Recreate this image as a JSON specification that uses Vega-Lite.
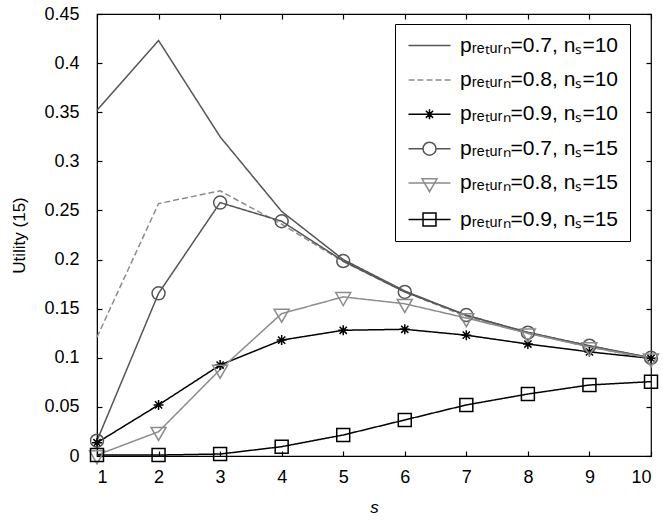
{
  "$schema": "https://vega.github.io/schema/vega-lite/v6.json",
  "width": 554,
  "height": 442,
  "autosize": {"type": "none"},
  "padding": {"left": 97, "top": 14, "right": 12, "bottom": 65},
  "config": {
    "font": "Liberation Sans",
    "view": {"stroke": "#000000", "strokeWidth": 1.2},
    "axis": {"grid": false, "domainColor": "#000000", "tickColor": "#000000", "labelColor": "#000000", "titleColor": "#000000", "labelFontSize": 18, "titleFontSize": 17, "titleFontWeight": "normal", "tickSize": -5, "tickWidth": 1.2, "labelFont": "Liberation Sans", "titleFont": "Liberation Sans"},
    "legend": {"labelFont": "Liberation Sans"}
  },
  "data": {"values": [
    {"s":1,"u":0.352,"series":"pᵣₑₜᵤᵣₙ=0.7, nₛ=10"},{"s":2,"u":0.423,"series":"pᵣₑₜᵤᵣₙ=0.7, nₛ=10"},{"s":3,"u":0.325,"series":"pᵣₑₜᵤᵣₙ=0.7, nₛ=10"},{"s":4,"u":0.249,"series":"pᵣₑₜᵤᵣₙ=0.7, nₛ=10"},{"s":5,"u":0.200,"series":"pᵣₑₜᵤᵣₙ=0.7, nₛ=10"},{"s":6,"u":0.168,"series":"pᵣₑₜᵤᵣₙ=0.7, nₛ=10"},{"s":7,"u":0.143,"series":"pᵣₑₜᵤᵣₙ=0.7, nₛ=10"},{"s":8,"u":0.126,"series":"pᵣₑₜᵤᵣₙ=0.7, nₛ=10"},{"s":9,"u":0.112,"series":"pᵣₑₜᵤᵣₙ=0.7, nₛ=10"},{"s":10,"u":0.100,"series":"pᵣₑₜᵤᵣₙ=0.7, nₛ=10"},
    {"s":1,"u":0.121,"series":"pᵣₑₜᵤᵣₙ=0.8, nₛ=10"},{"s":2,"u":0.257,"series":"pᵣₑₜᵤᵣₙ=0.8, nₛ=10"},{"s":3,"u":0.270,"series":"pᵣₑₜᵤᵣₙ=0.8, nₛ=10"},{"s":4,"u":0.236,"series":"pᵣₑₜᵤᵣₙ=0.8, nₛ=10"},{"s":5,"u":0.198,"series":"pᵣₑₜᵤᵣₙ=0.8, nₛ=10"},{"s":6,"u":0.167,"series":"pᵣₑₜᵤᵣₙ=0.8, nₛ=10"},{"s":7,"u":0.142,"series":"pᵣₑₜᵤᵣₙ=0.8, nₛ=10"},{"s":8,"u":0.125,"series":"pᵣₑₜᵤᵣₙ=0.8, nₛ=10"},{"s":9,"u":0.111,"series":"pᵣₑₜᵤᵣₙ=0.8, nₛ=10"},{"s":10,"u":0.099,"series":"pᵣₑₜᵤᵣₙ=0.8, nₛ=10"},
    {"s":1,"u":0.0135,"series":"pᵣₑₜᵤᵣₙ=0.9, nₛ=10"},{"s":2,"u":0.052,"series":"pᵣₑₜᵤᵣₙ=0.9, nₛ=10"},{"s":3,"u":0.0926,"series":"pᵣₑₜᵤᵣₙ=0.9, nₛ=10"},{"s":4,"u":0.118,"series":"pᵣₑₜᵤᵣₙ=0.9, nₛ=10"},{"s":5,"u":0.128,"series":"pᵣₑₜᵤᵣₙ=0.9, nₛ=10"},{"s":6,"u":0.129,"series":"pᵣₑₜᵤᵣₙ=0.9, nₛ=10"},{"s":7,"u":0.123,"series":"pᵣₑₜᵤᵣₙ=0.9, nₛ=10"},{"s":8,"u":0.114,"series":"pᵣₑₜᵤᵣₙ=0.9, nₛ=10"},{"s":9,"u":0.106,"series":"pᵣₑₜᵤᵣₙ=0.9, nₛ=10"},{"s":10,"u":0.0994,"series":"pᵣₑₜᵤᵣₙ=0.9, nₛ=10"},
    {"s":1,"u":0.0156,"series":"pᵣₑₜᵤᵣₙ=0.7, nₛ=15"},{"s":2,"u":0.1656,"series":"pᵣₑₜᵤᵣₙ=0.7, nₛ=15"},{"s":3,"u":0.258,"series":"pᵣₑₜᵤᵣₙ=0.7, nₛ=15"},{"s":4,"u":0.239,"series":"pᵣₑₜᵤᵣₙ=0.7, nₛ=15"},{"s":5,"u":0.1985,"series":"pᵣₑₜᵤᵣₙ=0.7, nₛ=15"},{"s":6,"u":0.167,"series":"pᵣₑₜᵤᵣₙ=0.7, nₛ=15"},{"s":7,"u":0.1435,"series":"pᵣₑₜᵤᵣₙ=0.7, nₛ=15"},{"s":8,"u":0.1255,"series":"pᵣₑₜᵤᵣₙ=0.7, nₛ=15"},{"s":9,"u":0.1123,"series":"pᵣₑₜᵤᵣₙ=0.7, nₛ=15"},{"s":10,"u":0.100,"series":"pᵣₑₜᵤᵣₙ=0.7, nₛ=15"},
    {"s":1,"u":0.001,"series":"pᵣₑₜᵤᵣₙ=0.8, nₛ=15"},{"s":2,"u":0.0247,"series":"pᵣₑₜᵤᵣₙ=0.8, nₛ=15"},{"s":3,"u":0.088,"series":"pᵣₑₜᵤᵣₙ=0.8, nₛ=15"},{"s":4,"u":0.145,"series":"pᵣₑₜᵤᵣₙ=0.8, nₛ=15"},{"s":5,"u":0.162,"series":"pᵣₑₜᵤᵣₙ=0.8, nₛ=15"},{"s":6,"u":0.155,"series":"pᵣₑₜᵤᵣₙ=0.8, nₛ=15"},{"s":7,"u":0.1405,"series":"pᵣₑₜᵤᵣₙ=0.8, nₛ=15"},{"s":8,"u":0.125,"series":"pᵣₑₜᵤᵣₙ=0.8, nₛ=15"},{"s":9,"u":0.111,"series":"pᵣₑₜᵤᵣₙ=0.8, nₛ=15"},{"s":10,"u":0.0995,"series":"pᵣₑₜᵤᵣₙ=0.8, nₛ=15"},
    {"s":1,"u":0.001,"series":"pᵣₑₜᵤᵣₙ=0.9, nₛ=15"},{"s":2,"u":0.001,"series":"pᵣₑₜᵤᵣₙ=0.9, nₛ=15"},{"s":3,"u":0.002,"series":"pᵣₑₜᵤᵣₙ=0.9, nₛ=15"},{"s":4,"u":0.0095,"series":"pᵣₑₜᵤᵣₙ=0.9, nₛ=15"},{"s":5,"u":0.0214,"series":"pᵣₑₜᵤᵣₙ=0.9, nₛ=15"},{"s":6,"u":0.0367,"series":"pᵣₑₜᵤᵣₙ=0.9, nₛ=15"},{"s":7,"u":0.052,"series":"pᵣₑₜᵤᵣₙ=0.9, nₛ=15"},{"s":8,"u":0.0631,"series":"pᵣₑₜᵤᵣₙ=0.9, nₛ=15"},{"s":9,"u":0.0723,"series":"pᵣₑₜᵤᵣₙ=0.9, nₛ=15"},{"s":10,"u":0.0757,"series":"pᵣₑₜᵤᵣₙ=0.9, nₛ=15"}
  ]},
  "resolve": {
    "scale": {"shape": "independent"},
    "axis": {"x": "independent", "y": "independent"},
    "legend": {"color": "independent", "shape": "independent", "strokeDash": "independent"}
  },
  "layer": [
    {
      "mark": {"type": "line", "strokeWidth": 1.5, "clip": false},
      "encoding": {
        "x": {"field": "s", "type": "quantitative", "scale": {"domain": [1, 10], "nice": false},
              "axis": {"orient": "bottom", "values": [1,2,3,4,5,6,7,8,9,10], "labelPadding": 17, "title": "s", "titleFontStyle": "italic", "titleY": 51, "titleBaseline": "middle"}},
        "y": {"field": "u", "type": "quantitative", "scale": {"domain": [0, 0.45], "nice": false},
              "axis": {"orient": "left", "values": [0,0.05,0.1,0.15,0.2,0.25,0.3,0.35,0.4,0.45], "format": "~g", "labelPadding": 23, "title": "Utility (15)", "titleX": -78, "titleY": 221, "titleBaseline": "middle"}},
        "color": {"field": "series", "type": "nominal", "legend": null,
                  "scale": {"domain": ["pᵣₑₜᵤᵣₙ=0.7, nₛ=10","pᵣₑₜᵤᵣₙ=0.8, nₛ=10","pᵣₑₜᵤᵣₙ=0.9, nₛ=10","pᵣₑₜᵤᵣₙ=0.7, nₛ=15","pᵣₑₜᵤᵣₙ=0.8, nₛ=15","pᵣₑₜᵤᵣₙ=0.9, nₛ=15"],
                            "range": ["#555555","#8c8c8c","#000000","#555555","#8c8c8c","#000000"]}},
        "strokeDash": {"field": "series", "type": "nominal", "legend": null,
                  "scale": {"domain": ["pᵣₑₜᵤᵣₙ=0.7, nₛ=10","pᵣₑₜᵤᵣₙ=0.8, nₛ=10","pᵣₑₜᵤᵣₙ=0.9, nₛ=10","pᵣₑₜᵤᵣₙ=0.7, nₛ=15","pᵣₑₜᵤᵣₙ=0.8, nₛ=15","pᵣₑₜᵤᵣₙ=0.9, nₛ=15"],
                            "range": [[1,0],[6,3],[1,0],[1,0],[1,0],[1,0]]}}
      }
    },
    {
      "transform": [{"filter": {"field": "series", "oneOf": ["pᵣₑₜᵤᵣₙ=0.9, nₛ=10","pᵣₑₜᵤᵣₙ=0.7, nₛ=15","pᵣₑₜᵤᵣₙ=0.8, nₛ=15","pᵣₑₜᵤᵣₙ=0.9, nₛ=15"]}}],
      "mark": {"type": "point", "filled": false, "size": 144, "strokeWidth": 1.5, "opacity": 1, "clip": false},
      "encoding": {
        "x": {"field": "s", "type": "quantitative", "axis": null},
        "y": {"field": "u", "type": "quantitative", "axis": null},
        "color": {"field": "series", "type": "nominal", "legend": null},
        "shape": {"field": "series", "type": "nominal", "legend": null,
                  "scale": {"domain": ["pᵣₑₜᵤᵣₙ=0.9, nₛ=10","pᵣₑₜᵤᵣₙ=0.7, nₛ=15","pᵣₑₜᵤᵣₙ=0.8, nₛ=15","pᵣₑₜᵤᵣₙ=0.9, nₛ=15"],
                            "range": ["M0,-0.83V0.83M-0.83,0H0.83M-0.6,-0.6L0.6,0.6M-0.6,0.6L0.6,-0.6",
                                      "M-1.08,0A1.08,1.08 0 1,0 1.08,0A1.08,1.08 0 1,0 -1.08,0Z",
                                      "M-1.25,-0.72L1.25,-0.72L0,1.44Z",
                                      "M-1.08,-1.08H1.08V1.08H-1.08Z"]}}
      }
    },
    {
      "mark": {"type": "point", "filled": false, "size": 144, "strokeWidth": 1.5, "opacity": 0},
      "encoding": {
        "x": {"field": "s", "type": "quantitative", "axis": {"orient": "top", "labels": false, "title": null, "values": [1,2,3,4,5,6,7,8,9,10], "domain": false}},
        "y": {"field": "u", "type": "quantitative", "axis": {"orient": "right", "labels": false, "title": null, "values": [0,0.05,0.1,0.15,0.2,0.25,0.3,0.35,0.4,0.45], "domain": false}},
        "color": {"field": "series", "type": "nominal",
                  "legend": {"orient": "none", "legendX": 298, "legendY": 10, "title": null, "strokeColor": "#000000", "padding": 11, "symbolSize": 144, "symbolStrokeWidth": 1.5, "symbolOpacity": 1, "symbolOffset": 13, "labelOffset": 20, "labelFontSize": 21, "labelLimit": 400, "rowPadding": 12.4, "labelColor": "#000000", "cornerRadius": 0, "fillColor": "#ffffff"}},
        "shape": {"field": "series", "type": "nominal",
                  "scale": {"domain": ["pᵣₑₜᵤᵣₙ=0.7, nₛ=10","pᵣₑₜᵤᵣₙ=0.8, nₛ=10","pᵣₑₜᵤᵣₙ=0.9, nₛ=10","pᵣₑₜᵤᵣₙ=0.7, nₛ=15","pᵣₑₜᵤᵣₙ=0.8, nₛ=15","pᵣₑₜᵤᵣₙ=0.9, nₛ=15"],
                            "range": ["M-3.5,0H3.5",
                                      "M-3.5,0H-2.5M-2,0H-1M-0.5,0H0.5M1,0H2M2.5,0H3.5",
                                      "M-3.5,0H3.5M0,-0.83V0.83M-0.83,0H0.83M-0.6,-0.6L0.6,0.6M-0.6,0.6L0.6,-0.6",
                                      "M-3.5,0H-1.08M1.08,0H3.5M-1.08,0A1.08,1.08 0 1,0 1.08,0A1.08,1.08 0 1,0 -1.08,0",
                                      "M-3.5,0H3.5M-1.25,-0.72L1.25,-0.72L0,1.44Z",
                                      "M-3.5,0H3.5M-1.08,-1.08H1.08V1.08H-1.08Z"]},
                  "legend": {"orient": "none", "legendX": 298, "legendY": 10, "title": null, "strokeColor": "#000000", "padding": 11, "symbolSize": 144, "symbolStrokeWidth": 1.5, "symbolOpacity": 1, "symbolOffset": 13, "labelOffset": 20, "labelFontSize": 21, "labelLimit": 400, "rowPadding": 12.4, "labelColor": "#000000", "cornerRadius": 0, "fillColor": "#ffffff"}}
      }
    }
  ]
}
